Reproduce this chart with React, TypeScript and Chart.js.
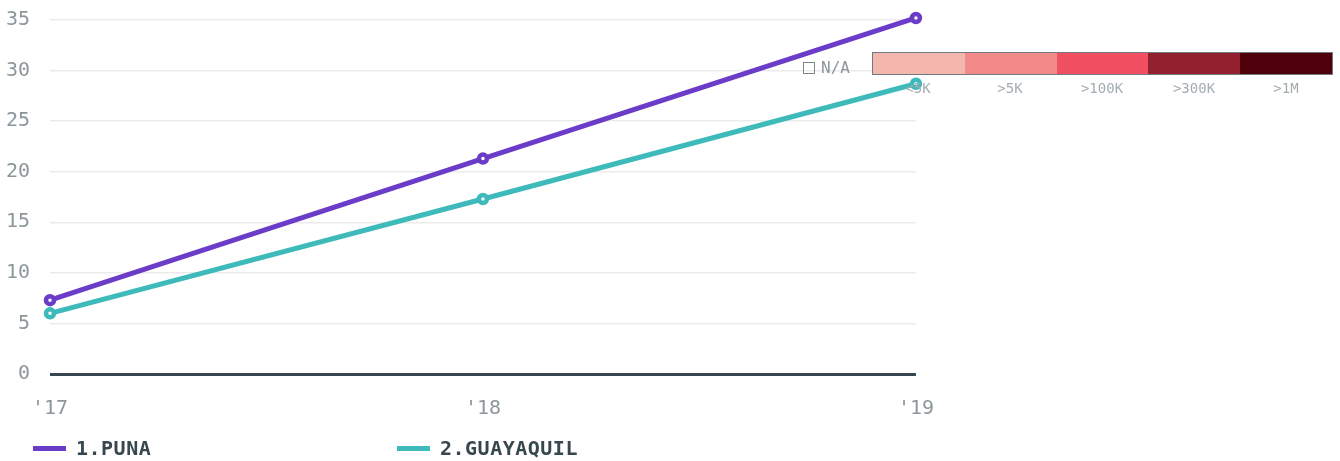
import React, { useEffect, useRef } from "react";
import { Chart, registerables } from "chart.js";

Chart.register(...registerables);

const categories = ["'17", "'18", "'19"];
const punaValues = [7.3, 21.3, 35.2];
const guayaquilValues = [6.0, 17.3, 28.7];
const yTicks = [0, 5, 10, 15, 20, 25, 30, 35];
const seriesNames = ["1.PUNA", "2.GUAYAQUIL"];
const seriesColors = ["#6a3cc8", "#3dbab9"];
const scaleLabels = ["<5K", ">5K", ">100K", ">300K", ">1M"];
const scaleColors = ["#f4b7ae", "#f28a8a", "#f05062", "#92202e", "#50000a"];

const MONO = "'DejaVu Sans Mono', 'Liberation Mono', monospace";

export default function App() {
  const ref = useRef<HTMLCanvasElement | null>(null);

  useEffect(() => {
    document.body.style.margin = "0";
    const canvas = ref.current;
    if (!canvas) return;
    const chart = new Chart(canvas, {
      type: "line",
      data: {
        labels: categories,
        datasets: [
          {
            label: seriesNames[0],
            data: punaValues,
            borderColor: seriesColors[0],
            backgroundColor: "#ffffff",
            pointBorderColor: seriesColors[0],
            borderWidth: 5,
            pointRadius: 4,
            pointBorderWidth: 4.5,
            tension: 0,
            clip: false as any,
          },
          {
            label: seriesNames[1],
            data: guayaquilValues,
            borderColor: seriesColors[1],
            backgroundColor: "#ffffff",
            pointBorderColor: seriesColors[1],
            borderWidth: 5,
            pointRadius: 4,
            pointBorderWidth: 4.5,
            tension: 0,
            clip: false as any,
          },
        ],
      },
      options: {
        animation: false,
        responsive: false,
        maintainAspectRatio: false,
        layout: { padding: { top: 7, right: 8, left: 0, bottom: 0 } },
        plugins: { legend: { display: false }, tooltip: { enabled: false } },
        scales: {
          x: {
            offset: false,
            grid: { display: false, drawTicks: false },
            border: { display: false },
            ticks: {
              color: "#8c979c",
              font: { family: MONO, size: 20 },
              padding: 23,
              maxRotation: 0,
            },
          },
          y: {
            min: 0,
            max: 35,
            afterBuildTicks: (s: any) => {
              s.ticks = yTicks.map((v) => ({ value: v }));
            },
            afterFit: (s: any) => {
              s.width = 50;
            },
            grid: {
              drawTicks: false,
              color: (ctx: any) => (ctx.tick && ctx.tick.value === 0 ? "#37474f" : "#ebebeb"),
              lineWidth: (ctx: any) => (ctx.tick && ctx.tick.value === 0 ? 3 : 1.5),
            },
            border: { display: false },
            ticks: {
              color: "#8c979c",
              font: { family: MONO, size: 20 },
              padding: 20,
            },
          },
        },
      },
    });
    return () => chart.destroy();
  }, []);

  return (
    <div style={{ position: "relative", width: 1340, height: 461, background: "#fff", overflow: "hidden" }}>
      <canvas ref={ref} width={957} height={456} style={{ position: "absolute", left: 0, top: -12, width: 957, height: 456 }} />
      {/* bottom legend */}
      {seriesNames.map((n, i) => (
        <div key={n} style={{ position: "absolute", left: 33 + i * 364, top: 436, height: 24, display: "flex", alignItems: "center" }}>
          <div style={{ width: 33, height: 5, background: seriesColors[i], marginRight: 10 }} />
          <span style={{ fontFamily: MONO, fontWeight: "bold", fontSize: 20, color: "#37474f", letterSpacing: 0.5 }}>{n}</span>
        </div>
      ))}
      {/* color scale legend */}
      <div style={{ position: "absolute", left: 803, top: 62, width: 12, height: 12, border: "1.5px solid #7c878c", boxSizing: "border-box" }} />
      <span style={{ position: "absolute", left: 821, top: 58, fontFamily: MONO, fontSize: 16, color: "#8c979c", lineHeight: "20px" }}>N/A</span>
      <div style={{ position: "absolute", left: 872, top: 52, width: 461, height: 23, border: "1.5px solid #707b80", boxSizing: "border-box", display: "flex" }}>
        {scaleColors.map((c) => (
          <div key={c} style={{ flex: 1, background: c }} />
        ))}
      </div>
      {scaleLabels.map((l, i) => (
        <span key={l} style={{ position: "absolute", left: 872 + i * 92, width: 92, top: 78, textAlign: "center", fontFamily: MONO, fontSize: 14, color: "#a3acb0", lineHeight: "20px" }}>{l}</span>
      ))}
    </div>
  );
}
